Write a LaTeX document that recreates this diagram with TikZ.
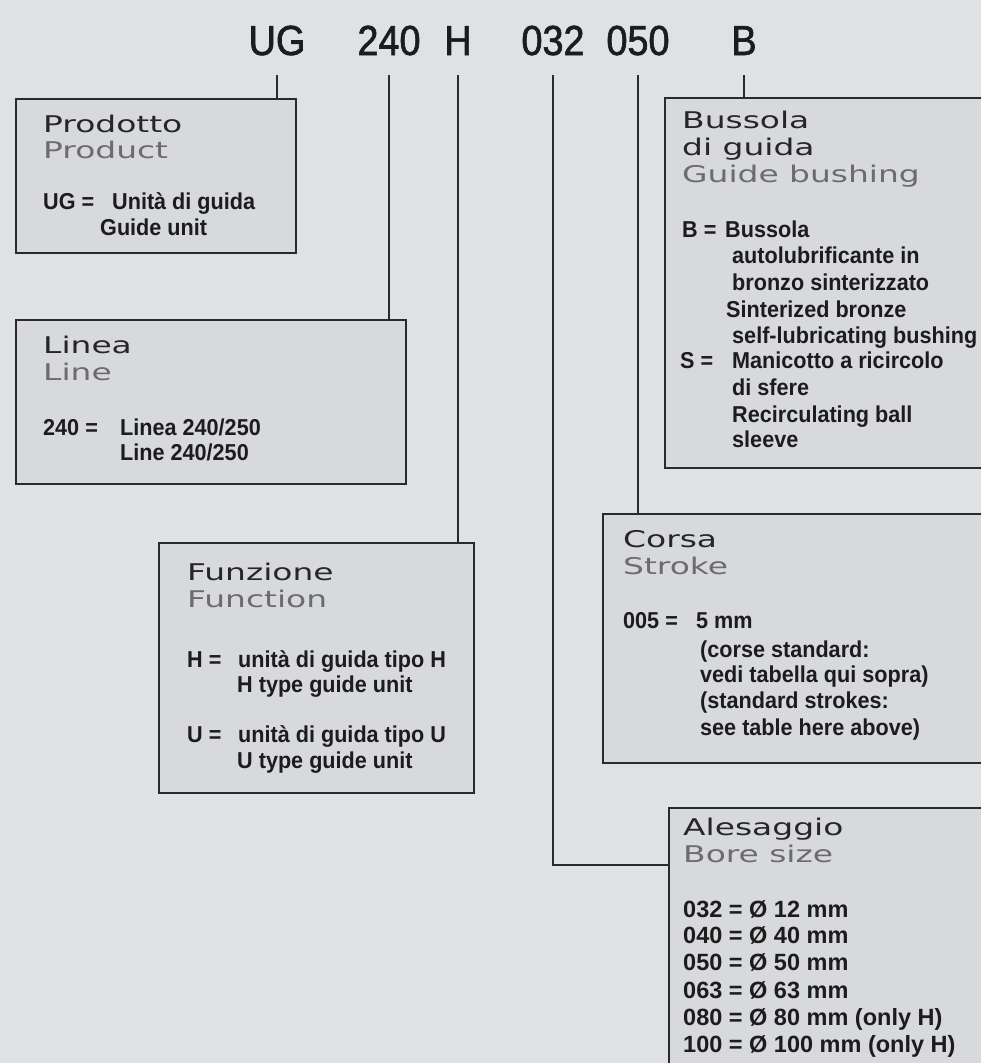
\documentclass[tikz,border=0pt]{standalone}
\usepackage{fontspec}
\newfontfamily\codefont[FakeStretch=0.9,FakeBold=1.5]{Liberation Sans}
\newfontfamily\headfont[FakeStretch=1.43]{DejaVu Sans}
\newfontfamily\bodyfont[FakeStretch=0.94]{Liberation Sans}
\newfontfamily\borefont{Liberation Sans}
\definecolor{bg}{HTML}{DFE2E5}
\definecolor{panelfill}{HTML}{D7D9DC}
\definecolor{linecol}{HTML}{2A2A2A}
\definecolor{txt}{HTML}{1C1C1C}
\definecolor{headdark}{HTML}{262626}
\definecolor{headgray}{HTML}{6C6C6C}
\begin{document}
\begin{tikzpicture}[x=1pt,y=-1pt,
  code/.style={font=\codefont\fontsize{42}{50}\selectfont, text=txt, anchor=base, inner sep=0pt},
  headit/.style={font=\headfont\fontsize{23}{27}\selectfont, text=headdark, anchor=base west, inner sep=0pt},
  headen/.style={font=\headfont\fontsize{23}{27}\selectfont, text=headgray, anchor=base west, inner sep=0pt},
  body/.style={font=\bodyfont\bfseries\fontsize{23}{27}\selectfont, text=txt, anchor=base west, inner sep=0pt},
  bore/.style={font=\borefont\bfseries\fontsize{23.5}{27}\selectfont, text=txt, anchor=base west, inner sep=0pt},
  panel/.style={draw=linecol, line width=2.4pt, fill=panelfill, anchor=north west, inner sep=0pt},
  conn/.style={draw=linecol, line width=2pt}]
\useasboundingbox (0,0) rectangle (981,1063);
\clip (0,0) rectangle (981,1063);
\fill[bg] (0,0) rectangle (981,1063);

% code labels
\node[code] (cUG) at (277,55) {UG};
\node[code] (c240) at (389,55) {240};
\node[code] (cH) at (458,55) {H};
\node[code] (c032) at (553,55) {032};
\node[code] (c050) at (638,55) {050};
\node[code] (cB) at (744,55) {B};

% panels
\node[panel, minimum width=280pt, minimum height=154pt] (prod) at (15,98) {};
\node[panel, minimum width=390pt, minimum height=164pt] (linea) at (15,319) {};
\node[panel, minimum width=315pt, minimum height=250pt] (funz) at (158,542) {};
\node[panel, minimum width=340pt, minimum height=370pt] (buss) at (664,97) {};
\node[panel, minimum width=400pt, minimum height=249pt] (corsa) at (602,513) {};
\node[panel, minimum width=340pt, minimum height=300pt] (ales) at (668,807) {};

% connectors
\draw[conn] ([yshift=-20pt]cUG.base) -- (cUG.base |- prod.north);
\draw[conn] ([yshift=-20pt]c240.base) -- (c240.base |- linea.north);
\draw[conn] ([yshift=-20pt]cH.base) -- (cH.base |- funz.north);
\draw[conn] ([yshift=-20pt]c050.base) -- (c050.base |- corsa.north);
\draw[conn] ([yshift=-20pt]cB.base) -- (cB.base |- buss.north);
\draw[conn] ([yshift=-20pt]c032.base) |- ([yshift=-58pt]ales.north west);

% Prodotto
\node[headit] (prodh1) at (43,132) {Prodotto};
\node[headen] (prodh2) at (43,158) {Product};
\node[body] (prodk) at (43,209) {UG =};
\node[body] (prodv1) at (112,209) {Unità di guida};
\node[body] (prodv2) at (100,235) {Guide unit};

% Linea
\node[headit] (linh1) at (43,353) {Linea};
\node[headen] (linh2) at (43,380) {Line};
\node[body] (link) at (43,435) {240 =};
\node[body] (linv1) at (120,435) {Linea 240/250};
\node[body] (linv2) at (120,460) {Line 240/250};

% Funzione
\node[headit] (funh1) at (187,580) {Funzione};
\node[headen] (funh2) at (187,607) {Function};
\node[body] (funk1) at (187,667) {H =};
\node[body] (funv1) at (238,667) {unità di guida tipo H};
\node[body] (funv2) at (237,692) {H type guide unit};
\node[body] (funk2) at (187,742) {U =};
\node[body] (funv3) at (238,742) {unità di guida tipo U};
\node[body] (funv4) at (237,768) {U type guide unit};

% Bussola
\node[headit] (bush1) at (682,128) {Bussola};
\node[headit] (bush2) at (682,155) {di guida};
\node[headen] (bush3) at (682,182) {Guide bushing};
\node[body] (busk1) at (682,237) {B =};
\node[body] (busv1) at (725,237) {Bussola};
\node[body] (busv2) at (732,263) {autolubrificante in};
\node[body] (busv3) at (732,290) {bronzo sinterizzato};
\node[body] (busv4) at (726,317) {Sinterized bronze};
\node[body] (busv5) at (732,343) {self-lubricating bushing};
\node[body] (busk2) at (680,368) {S =};
\node[body] (busv6) at (732,368) {Manicotto a ricircolo};
\node[body] (busv7) at (732,395) {di sfere};
\node[body] (busv8) at (732,422) {Recirculating ball};
\node[body] (busv9) at (732,447) {sleeve};

% Corsa
\node[headit] (corh1) at (623,547) {Corsa};
\node[headen] (corh2) at (623,574) {Stroke};
\node[body] (cork) at (623,628) {005 =};
\node[body] (corv1) at (696,628) {5 mm};
\node[body] (corv2) at (700,657) {(corse standard:};
\node[body] (corv3) at (700,682) {vedi tabella qui sopra)};
\node[body] (corv4) at (700,708) {(standard strokes:};
\node[body] (corv5) at (700,735) {see table here above)};

% Alesaggio
\node[headit] (aleh1) at (683,835) {Alesaggio};
\node[headen] (aleh2) at (683,862) {Bore size};
\node[bore] (alev1) at (683,917) {032 = Ø 12 mm};
\node[bore] (alev2) at (683,943) {040 = Ø 40 mm};
\node[bore] (alev3) at (683,970) {050 = Ø 50 mm};
\node[bore] (alev4) at (683,998) {063 = Ø 63 mm};
\node[bore] (alev5) at (683,1025) {080 = Ø 80 mm (only H)};
\node[bore] (alev6) at (683,1052) {100 = Ø 100 mm (only H)};
\end{tikzpicture}
\end{document}
